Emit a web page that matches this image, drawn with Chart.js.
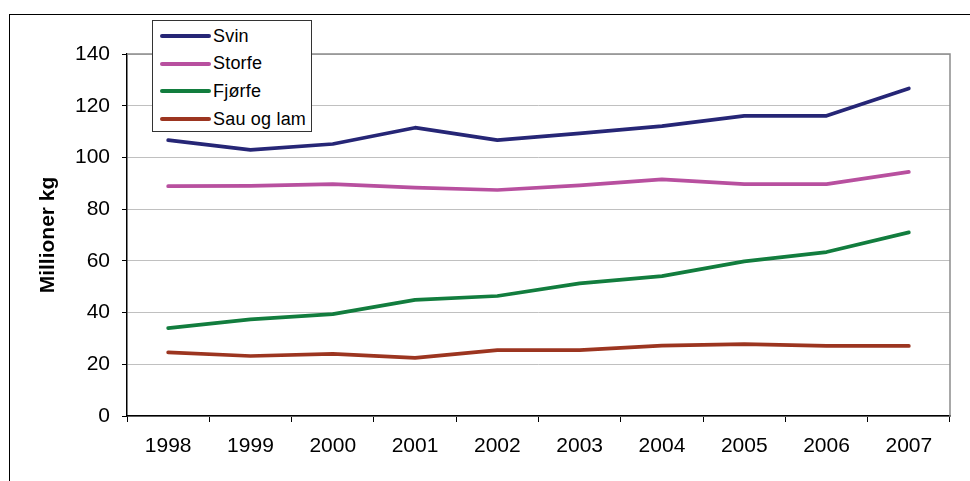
<!DOCTYPE html>
<html lang="no">
<head>
<meta charset="utf-8">
<title>Kjøttproduksjon 1998-2007</title>
<script src="https://cdn.jsdelivr.net/npm/chart.js@4.4.1/dist/chart.umd.min.js"></script>
<style>
  html, body { margin: 0; padding: 0; background: #fff; overflow: hidden; }
  #wrap { position: relative; width: 970px; height: 481px; }
  #frame {
    position: absolute; left: 9px; top: 14px; width: 1000px; height: 1000px;
    border-left: 1px solid #000; border-top: 1px solid #000;
  }
  #legend {
    position: absolute; left: 152px; top: 20px; width: 158px; height: 110px;
    border: 1px solid #333; background: #fff;
    font-family: "Liberation Sans", Arial, sans-serif; font-size: 18px; color: #000;
  }
  .item { position: absolute; left: 7px; height: 20px; display: flex; align-items: center; }
  .swatch { width: 51px; height: 4px; border-radius: 2px; margin-right: 2px; }
  .label { letter-spacing: 0.2px; }
</style>
</head>
<body>
<div id="wrap">
  <div id="frame"></div>
  <canvas id="chart" width="970" height="481"></canvas>
  <div id="legend"></div>
</div>
<script>
const years = ["1998", "1999", "2000", "2001", "2002", "2003", "2004", "2005", "2006", "2007"];
const svin = [106.7, 102.9, 105.2, 111.5, 106.7, 109.3, 112.1, 116.1, 116.1, 126.7];
const storfe = [88.9, 89.0, 89.7, 88.3, 87.4, 89.2, 91.5, 89.7, 89.7, 94.4];
const fjorfe = [34.0, 37.4, 39.4, 44.9, 46.4, 51.3, 54.1, 59.8, 63.4, 71.0];
const sauOgLam = [24.6, 23.2, 24.0, 22.5, 25.5, 25.5, 27.2, 27.8, 27.1, 27.1];
const seriesNames = ["Svin", "Storfe", "Fjørfe", "Sau og lam"];
const seriesColors = ["#262676", "#b8509f", "#127d3e", "#9c3520"];
const yTicks = [0, 20, 40, 60, 80, 100, 120, 140];

document.addEventListener("DOMContentLoaded", () => {
  const font = "'Liberation Sans', Arial, sans-serif";

  // gray border on the top and right of the plot area
  const plotBorder = {
    id: "plotBorder",
    afterDatasetsDraw(chart) {
      const { ctx, chartArea } = chart;
      ctx.save();
      ctx.strokeStyle = "#8c8c8c";
      ctx.lineWidth = 1.5;
      ctx.beginPath();
      ctx.moveTo(chartArea.left, chartArea.top);
      ctx.lineTo(chartArea.right, chartArea.top);
      ctx.lineTo(chartArea.right, chartArea.bottom);
      ctx.stroke();
      ctx.restore();
    }
  };

  const values = [svin, storfe, fjorfe, sauOgLam];
  const datasets = seriesNames.map((name, i) => ({
    label: name,
    data: values[i],
    borderColor: seriesColors[i],
    backgroundColor: seriesColors[i],
    borderWidth: 3.7,
    borderCapStyle: "round",
    borderJoinStyle: "round",
    pointRadius: 0,
    tension: 0,
    fill: false,
  }));

  const chart = new Chart(document.getElementById("chart"), {
    type: "line",
    data: { labels: years, datasets },
    plugins: [plotBorder],
    options: {
      responsive: false,
      animation: false,
      layout: { padding: { left: 0, top: 54, right: 20, bottom: 0 } },
      plugins: {
        legend: { display: false },
        tooltip: { enabled: false },
      },
      scales: {
        x: {
          offset: true,
          afterFit: (scale) => { scale.height = 65; },
          grid: {
            offset: true,
            drawOnChartArea: false,
            tickLength: 6,
            color: "#000",
          },
          border: { color: "#000", width: 1.5 },
          ticks: {
            color: "#000",
            padding: 12,
            maxRotation: 0,
            font: { family: font, size: 21 },
          },
        },
        y: {
          min: 0,
          max: 140,
          afterFit: (scale) => { scale.width = 127; },
          afterBuildTicks: (scale) => { scale.ticks = yTicks.map(v => ({ value: v })); },
          grid: {
            color: "#c0c0c0",
            tickColor: "#000",
            tickLength: 5,
          },
          border: { color: "#000", width: 1.5 },
          ticks: {
            color: "#000",
            padding: 12,
            font: { family: font, size: 21 },
          },
          title: {
            display: true,
            text: "Millioner kg",
            color: "#000",
            padding: { top: 36, bottom: 0 },
            font: { family: font, size: 21, weight: "bold" },
          },
        },
      },
    },
  });

  // legend box built from the chart's datasets
  const legend = document.getElementById("legend");
  chart.data.datasets.forEach((ds, i) => {
    const item = document.createElement("div");
    item.className = "item";
    item.style.top = (5 + i * 27.7) + "px";
    item.innerHTML = `<span class="swatch" style="background:${ds.borderColor}"></span><span class="label">${ds.label}</span>`;
    legend.appendChild(item);
  });
});
</script>
</body>
</html>
